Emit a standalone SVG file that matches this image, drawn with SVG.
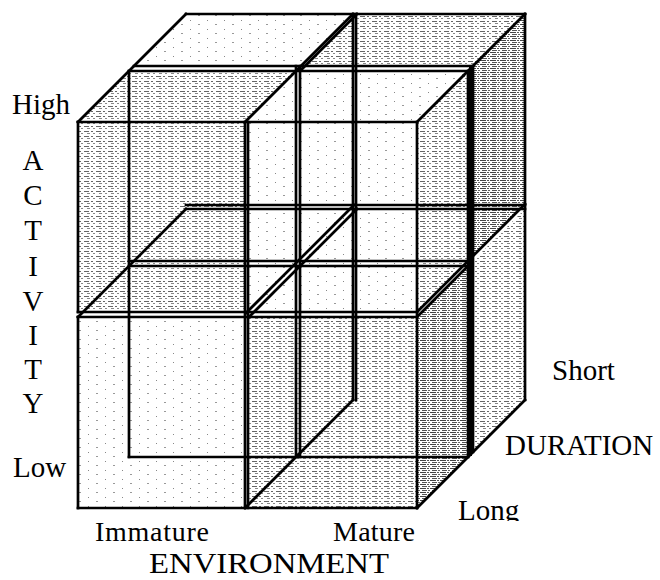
<svg xmlns="http://www.w3.org/2000/svg" width="660" height="580" viewBox="0 0 660 580">
<style>
.e{stroke:#000;stroke-width:2.7;fill:none;stroke-linecap:square}
.t{font-family:"Liberation Serif","Times New Roman",serif;font-size:29px;fill:#000}
</style>
<defs>
<pattern id="pMed" width="12" height="5" patternUnits="userSpaceOnUse">
<rect width="12" height="5" fill="#fff"/>
<rect x="0" y="1" width="5" height="1" fill="#666"/>
<rect x="7" y="1" width="2" height="1" fill="#666"/>
<rect x="3" y="3" width="3" height="1" fill="#888"/>
<rect x="9" y="3" width="2" height="1" fill="#888"/>
</pattern>
<pattern id="pDark" width="10" height="4" patternUnits="userSpaceOnUse">
<rect width="10" height="4" fill="#fff"/>
<rect x="0" y="0" width="6" height="1" fill="#444"/>
<rect x="7" y="0" width="2" height="1" fill="#555"/>
<rect x="2" y="2" width="5" height="1" fill="#555"/>
<rect x="8" y="2" width="2" height="1" fill="#666"/>
</pattern>
<pattern id="pLight" width="17" height="9" patternUnits="userSpaceOnUse">
<rect width="17" height="9" fill="#fff"/>
<rect x="3" y="2" width="1" height="1" fill="#888"/>
<rect x="11" y="6" width="2" height="1" fill="#999"/>
</pattern>
<clipPath id="clipLong"><rect x="440" y="480" width="120" height="41"/></clipPath>
</defs>
<rect width="660" height="580" fill="#fff"/>
<g id="shading">
<polygon points="134,66 186,14 353,14 301,66" fill="url(#pLight)"/>
<polygon points="305,66 357,14 525,14 473,66" fill="url(#pMed)"/>
<polygon points="78,122 129,71 296,71 245,122" fill="url(#pMed)"/>
<polygon points="249,122 300,71 468,71 417,122" fill="url(#pLight)"/>
<rect x="78" y="122" width="167" height="190" fill="url(#pMed)"/>
<rect x="249" y="122" width="168" height="190" fill="url(#pLight)"/>
<rect x="78" y="317" width="167" height="191" fill="url(#pLight)"/>
<rect x="249" y="317" width="168" height="191" fill="url(#pMed)"/>
<polygon points="417,122 468,71 468,261 417,312" fill="url(#pMed)"/>
<polygon points="473,66 525,14 525,205 473,256" fill="url(#pDark)"/>
<polygon points="417,317 468,266 468,457 417,508" fill="url(#pDark)"/>
<polygon points="473,261 525,209 525,400 473,452" fill="url(#pMed)"/>
<rect x="469" y="66" width="3" height="390" fill="#000"/>
</g>
<g id="connectors">
<line class="e" x1="78" y1="122" x2="417" y2="122"/>
<line class="e" x1="78" y1="312" x2="417" y2="312"/>
<line class="e" x1="78" y1="317" x2="417" y2="317"/>
<line class="e" x1="78" y1="508" x2="417" y2="508"/>
<line class="e" x1="78" y1="122" x2="78" y2="312"/>
<line class="e" x1="78" y1="317" x2="78" y2="508"/>
<line class="e" x1="245" y1="122" x2="245" y2="508"/>
<line class="e" x1="248" y1="122" x2="248" y2="508"/>
<line class="e" x1="417" y1="122" x2="417" y2="508"/>
<line class="e" x1="129" y1="71" x2="468" y2="71"/>
<line class="e" x1="129" y1="261" x2="468" y2="261"/>
<line class="e" x1="129" y1="266" x2="468" y2="266"/>
<line class="e" x1="129" y1="457" x2="468" y2="457"/>
<line class="e" x1="129" y1="71" x2="129" y2="457"/>
<line class="e" x1="296" y1="66" x2="296" y2="457"/>
<line class="e" x1="300" y1="66" x2="300" y2="457"/>
<line class="e" x1="468" y1="71" x2="468" y2="457"/>
<line class="e" x1="134" y1="66" x2="473" y2="66"/>
<line class="e" x1="473" y1="66" x2="473" y2="452"/>
<line class="e" x1="186" y1="14" x2="525" y2="14"/>
<line class="e" x1="186" y1="205" x2="525" y2="205"/>
<line class="e" x1="186" y1="209" x2="525" y2="209"/>
<line class="e" x1="353" y1="14" x2="353" y2="400"/>
<line class="e" x1="356" y1="14" x2="356" y2="400"/>
<line class="e" x1="525" y1="14" x2="525" y2="400"/>
<line class="e" x1="78" y1="122" x2="186" y2="14"/>
<line class="e" x1="417" y1="122" x2="525" y2="14"/>
<line class="e" x1="417" y1="508" x2="525" y2="400"/>
<line class="e" x1="78" y1="317" x2="186" y2="209"/>
<line class="e" x1="417" y1="312" x2="525" y2="204"/>
<line class="e" x1="417" y1="317" x2="470" y2="264"/>
<line class="e" x1="245" y1="122" x2="353" y2="14"/>
<line class="e" x1="300" y1="71" x2="357" y2="14"/>
<line class="e" x1="245" y1="508" x2="353" y2="400"/>
<line class="e" x1="246" y1="313" x2="354" y2="205"/>
<line class="e" x1="249" y1="317" x2="357" y2="209"/>
</g>
<g id="labels">
<text class="t" x="12" y="114">High</text>
<g text-anchor="middle">
<text class="t" x="33" y="170">A</text>
<text class="t" x="33" y="205">C</text>
<text class="t" x="33" y="240">T</text>
<text class="t" x="33" y="276">I</text>
<text class="t" x="33" y="311">V</text>
<text class="t" x="33" y="345">I</text>
<text class="t" x="33" y="379">T</text>
<text class="t" x="33" y="413">Y</text>
</g>
<text class="t" x="13" y="477">Low</text>
<text class="t" x="95" y="541" style="font-size:28px" textLength="114">Immature</text>
<text class="t" x="333" y="541" style="font-size:28px" textLength="82">Mature</text>
<text class="t" x="149" y="573" textLength="240" lengthAdjust="spacingAndGlyphs">ENVIRONMENT</text>
<text class="t" x="458" y="520" clip-path="url(#clipLong)">Long</text>
<text class="t" x="552" y="380">Short</text>
<text class="t" x="505" y="455">DURATION</text>
</g>
</svg>
